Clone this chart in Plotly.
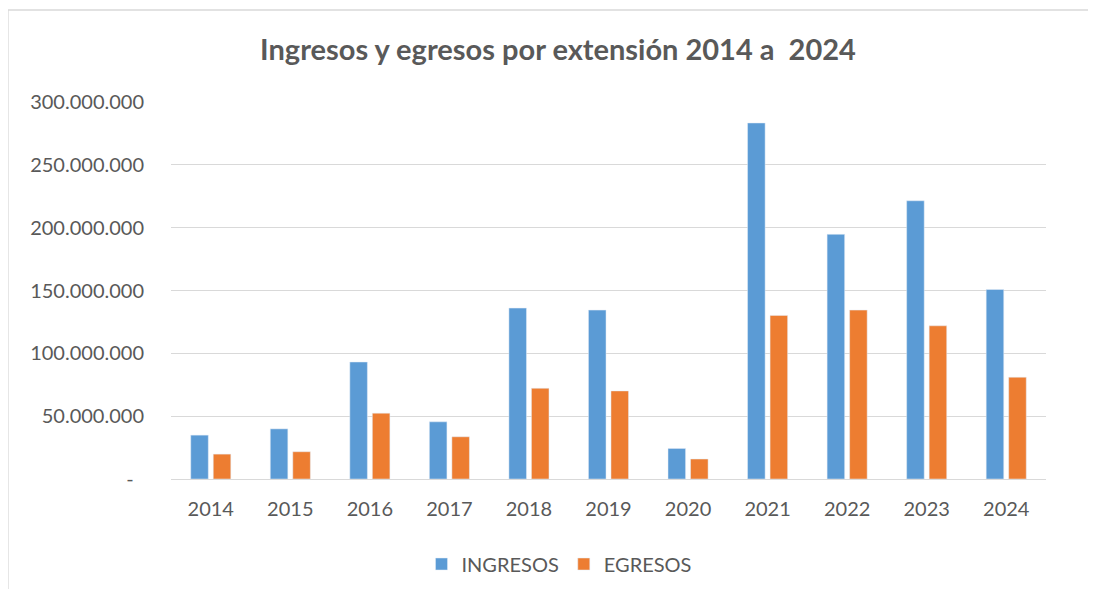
import plotly.graph_objects as go

years = ["2014", "2015", "2016", "2017", "2018", "2019", "2020", "2021", "2022", "2023", "2024"]
ingresos = [34.9e6, 39.9e6, 93.1e6, 45.5e6, 136.0e6, 134.4e6, 24.3e6, 283.3e6, 194.7e6, 221.4e6, 150.8e6]
egresos = [19.8e6, 21.7e6, 52.4e6, 33.6e6, 72.2e6, 70.1e6, 15.9e6, 130.2e6, 134.4e6, 121.9e6, 81.0e6]
ytick_vals = [0, 50e6, 100e6, 150e6, 200e6, 250e6, 300e6]
ytick_text = ["-\u00a0\u00a0", "50.000.000", "100.000.000", "150.000.000", "200.000.000", "250.000.000", "300.000.000"]

FONT = "Lato"
TXT = "#595959"
# page has an 8px body margin; the figure is sized/positioned to compensate
OFF = 8
W, H = 1096 - 2 * OFF, 597 - 2 * OFF
L, T = 171 - OFF, 102 - OFF
R = W - (1046 - OFF)
B = H - (479 - OFF)
pw, ph = W - L - R, H - T - B

def px_x(p):
    return (p - OFF - L) / pw

def px_y(p):
    return (T + ph - (p - OFF)) / ph

fig = go.Figure()
fig.add_trace(go.Bar(x=years, y=ingresos, name="INGRESOS", marker_color="#5B9BD5"))
fig.add_trace(go.Bar(x=years, y=egresos, name="EGRESOS", marker_color="#ED7D31"))

border = dict(color="#D9D9D9", width=1.3)
fig.update_layout(
    width=W, height=H,
    margin=dict(l=L, r=R, t=T, b=B),
    paper_bgcolor="white", plot_bgcolor="white",
    barmode="group", bargap=0.434, bargroupgap=0.22,
    font=dict(family=FONT, color=TXT, size=20),
    title=dict(text="<b>Ingresos y egresos por extensión 2014 a  2024</b>",
               x=(558 - OFF) / W, xref="container", xanchor="center",
               y=1 - (50 - OFF) / H, yref="container", yanchor="middle",
               font=dict(family=FONT, size=29, color=TXT)),
    legend=dict(orientation="h", x=(559 - OFF) / W, xref="container", xanchor="center",
                y=1 - (564 - OFF) / H, yref="container", yanchor="middle",
                font=dict(size=20, color=TXT), itemwidth=30),
    xaxis=dict(showgrid=False, showline=False, ticks="", tickfont=dict(size=20, color=TXT),
               ticklabelstandoff=16),
    yaxis=dict(range=[0, 300e6], tickvals=ytick_vals, ticktext=ytick_text,
               showgrid=True, gridcolor="#D9D9D9", gridwidth=1.3,
               zeroline=True, zerolinecolor="#D9D9D9", zerolinewidth=1.3,
               showline=False, ticks="", ticklabelstandoff=26,
               tickfont=dict(size=20, color=TXT)),
    shapes=[
        dict(type="line", xref="paper", yref="paper", x0=px_x(8), x1=px_x(1200),
             y0=px_y(10), y1=px_y(10), line=border, layer="below"),
        dict(type="line", xref="paper", yref="paper", x0=px_x(8), x1=px_x(8),
             y0=px_y(10), y1=px_y(700), line=border, layer="below"),
    ],
)

fig.write_html("out.html")
